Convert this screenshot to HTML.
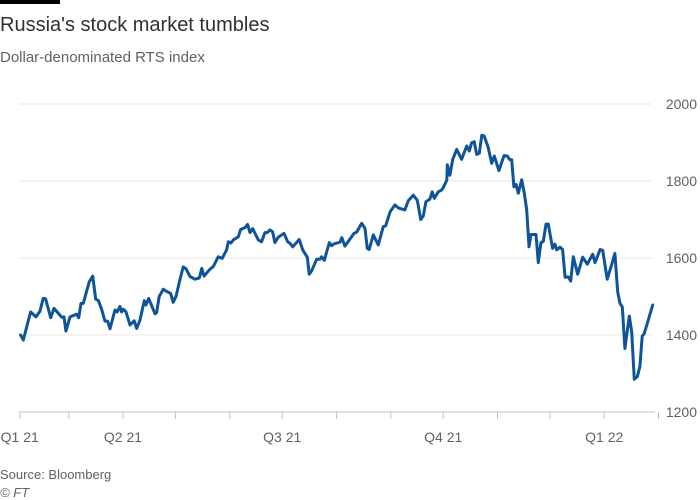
<!DOCTYPE html>
<html><head><meta charset="utf-8"><style>
html,body{margin:0;padding:0;background:#fff;width:700px;height:500px;overflow:hidden;font-family:"Liberation Sans",sans-serif}
</style></head><body>
<svg width="700" height="500" xmlns="http://www.w3.org/2000/svg">
<rect x="0" y="0" width="60" height="4" fill="#000"/>
<text x="0" y="31" font-size="20" fill="#33302e">Russia's stock market tumbles</text>
<text x="0" y="62" font-size="15" fill="#66605c">Dollar-denominated RTS index</text>
<g id="grid"></g><g id="xaxis"></g><g id="line"></g>
<text x="0" y="479" font-size="13" fill="#66605c">Source: Bloomberg</text>
<text x="0" y="497" font-size="13" font-style="italic" fill="#66605c">© FT</text>
</svg>
<script>
const yTicks=[1200,1400,1600,1800,2000];
const xTickDays=[31,59,90,120,151,181,212,243,273,304,334,365,396];
const xLabelDays=[31,90,181,273,365];
const xLabels=["Q1 21","Q2 21","Q3 21","Q4 21","Q1 22"];
const days=[31.5,33,37.2,40.3,42.6,44.4,45.8,48.7,50.6,55,56.3,57.4,59.7,63.5,64.7,66,67.3,70.7,72.7,74.4,75.9,77.8,79.7,81.2,82.6,85.4,86.7,88.3,89.2,90.2,91.7,94,96.4,97.8,99.7,102.2,103.1,104.7,108.3,109.2,110.7,113,115,117.2,118.7,120.3,122.2,124.4,126,128.3,131.1,133.6,135,136.3,139.7,141.6,144.4,146.7,149.2,150.2,151.7,153,155.9,157.2,159.7,161.2,162.6,164.1,167.3,169.2,171.1,172.4,174,175.5,176.8,178.7,182,184.1,185.4,187,190.7,192.7,195.3,196.4,197.8,200.7,202.6,203.5,205,207.9,209.2,210.7,214,215,216.8,222,223.5,226.4,228.3,229.6,230.7,233,235.9,238.7,240.1,242.6,245.4,247.3,251.1,253,255.9,258.2,260.1,261.6,263.1,265.4,266.7,267.9,270.2,272.1,273,275,275.3,276.8,278.4,280.7,283.5,286.4,287.9,289.2,290.7,292.1,293.6,295,296.4,298.7,300.7,302.2,304.8,307.7,309.6,311.1,312.1,313.4,314.6,315.9,317.8,319.3,320.7,322,323.1,326,327.3,328.8,330.2,331.7,333,335.5,336.8,337.8,339.7,341.2,342.6,344.4,345.8,347.3,349.8,352.7,355.3,358.4,359.7,362.6,364.1,366.7,369.2,371.1,372.7,374,375.3,376.8,379.3,380.7,382.2,383.9,385.4,386.7,387.9,392.7];
const values=[1400,1387,1460,1447,1462,1495,1494,1445,1469,1446,1447,1410,1447,1454,1445,1482,1482,1538,1553,1493,1490,1467,1436,1436,1416,1465,1460,1474,1460,1467,1460,1426,1437,1417,1439,1489,1478,1495,1455,1458,1500,1519,1513,1508,1485,1500,1538,1577,1572,1552,1545,1548,1573,1553,1571,1578,1603,1599,1621,1642,1639,1647,1655,1674,1679,1687,1666,1676,1647,1642,1666,1666,1673,1668,1640,1654,1664,1642,1638,1629,1648,1621,1602,1558,1567,1597,1597,1603,1594,1640,1632,1637,1641,1653,1631,1664,1667,1690,1677,1625,1622,1660,1634,1681,1684,1720,1738,1730,1725,1749,1763,1750,1700,1709,1746,1753,1772,1755,1772,1777,1783,1802,1842,1815,1856,1882,1856,1891,1878,1899,1902,1869,1872,1919,1917,1887,1846,1865,1827,1866,1865,1855,1855,1785,1791,1768,1803,1768,1725,1629,1661,1661,1588,1640,1643,1688,1688,1625,1636,1621,1628,1622,1550,1551,1540,1603,1558,1602,1584,1610,1588,1622,1620,1545,1582,1612,1512,1482,1473,1365,1449,1408,1285,1292,1318,1397,1404,1478];
const NS="http://www.w3.org/2000/svg";
function xS(d){return 123+(d-90)*1.75;}
function yS(v){return 412-(v-1200)*0.385;}
function mk(t,a,p){const e=document.createElementNS(NS,t);for(const k in a)e.setAttribute(k,a[k]);p.appendChild(e);return e;}
const g=document.getElementById('grid');
yTicks.forEach(v=>{
 if(v>1200){const l=mk('line',{x1:19,x2:652,y1:yS(v),y2:yS(v),stroke:'#ece5dd','stroke-width':1},g);
 
 }
 const t=mk('text',{x:697,y:yS(v)+5,'font-size':14,fill:'#66605c','text-anchor':'end'},g);
 t.textContent=v;
 
 
});
const xa=document.getElementById('xaxis');
const base=mk('line',{x1:19,x2:655,y1:412,y2:412,stroke:'#ccc1b7','stroke-width':1},xa);


xTickDays.forEach(d=>{const l=mk('line',{x1:xS(d),x2:xS(d),y1:412,y2:419,stroke:'#ccc1b7','stroke-width':1},xa);
 
 });
xLabelDays.forEach((d,i)=>{const t=mk('text',{x:xS(d),y:442,'font-size':14,fill:'#66605c','text-anchor':'middle'},xa);
 t.textContent=xLabels[i];
 
 });
const pts=days.map((d,i)=>xS(d).toFixed(1)+','+yS(values[i]).toFixed(1)).join(' ');
const pl=mk('polyline',{points:pts,fill:'none',stroke:'#0f5499','stroke-width':3,'stroke-linejoin':'round','stroke-linecap':'round'},document.getElementById('line'));


</script>
</body></html>
